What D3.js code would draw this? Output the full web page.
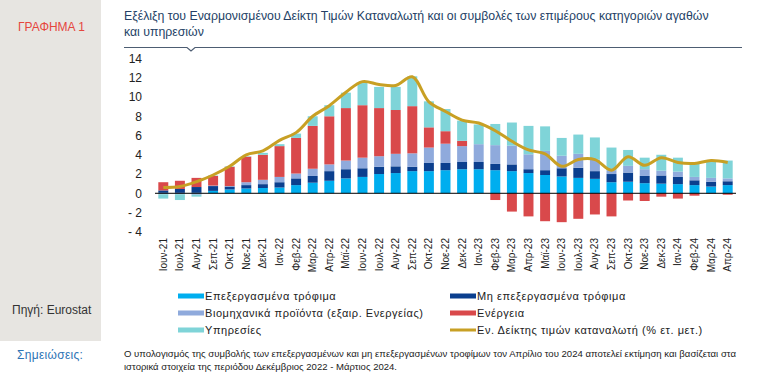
<!DOCTYPE html>
<html><head><meta charset="utf-8">
<script src="https://cdn.jsdelivr.net/npm/d3@7"></script>
<style>body{margin:0;background:#fff;} text{font-family:"Liberation Sans",Arial,sans-serif;}</style>
</head><body><svg id="c" width="762" height="381"></svg>
<script>
const months = ["Ιουν-21","Ιουλ-21","Αυγ-21","Σεπ-21","Οκτ-21","Νοε-21","Δεκ-21","Ιαν-22","Φεβ-22","Μαρ-22","Απρ-22","Μαϊ-22","Ιουν-22","Ιουλ-22","Αυγ-22","Σεπ-22","Οκτ-22","Νοε-22","Δεκ-22","Ιαν-23","Φεβ-23","Μαρ-23","Απρ-23","Μαϊ-23","Ιουν-23","Ιουλ-23","Αυγ-23","Σεπ-23","Οκτ-23","Νοε-23","Δεκ-23","Ιαν-24","Φεβ-24","Μαρ-24","Απρ-24"];
const processed   = [0.05,0.05,0.05,0.25,0.4,0.5,0.55,0.6,0.85,1.1,1.3,1.55,1.7,2.0,2.1,2.3,2.3,2.4,2.5,2.5,2.4,2.3,2.1,1.9,1.75,1.6,1.5,1.15,1.2,1.05,1.0,0.95,0.85,0.7,0.85];
const unprocessed = [0.25,0.4,0.6,0.5,0.3,0.35,0.4,0.55,0.7,0.7,1.0,0.95,0.9,0.75,0.7,0.45,0.85,0.75,0.75,0.75,0.65,0.7,0.4,0.5,0.85,1.05,0.8,0.85,0.95,0.75,0.85,0.75,0.5,0.5,0.4];
const industrial  = [-0.1,-0.1,-0.15,0.05,0.05,0.3,0.45,0.55,0.5,0.75,0.7,0.9,1.1,1.1,1.3,1.4,1.6,2.0,1.65,1.85,1.95,1.95,1.55,2.0,1.3,1.45,1.2,0.4,0.7,0.7,0.5,0.55,0.35,0.4,0.3];
const energy      = [0.85,0.85,0.95,1.0,2.0,2.65,2.6,3.2,3.7,4.45,5.0,5.45,5.45,5.0,4.55,4.9,2.1,1.3,0.55,0.0,-0.7,-1.9,-2.4,-2.9,-3.0,-2.65,-2.2,-2.4,-0.75,-0.8,-0.35,-0.55,-0.25,-0.05,-0.15];
const services    = [-0.45,-0.6,-0.2,0.05,0.05,0.05,0.2,0.2,0.45,1.0,1.15,1.6,2.3,2.2,2.4,3.1,2.7,2.3,2.1,2.05,2.2,2.4,2.95,2.55,1.85,2.0,2.3,2.35,1.65,1.2,1.65,1.45,1.55,1.7,1.85];
const hicp        = [0.6,0.7,1.2,1.9,2.8,4.0,4.4,5.5,6.3,8.0,9.1,10.5,11.6,11.3,11.2,12.1,9.5,8.5,7.6,7.3,6.5,5.4,4.5,4.1,2.8,3.5,3.5,2.4,3.8,2.9,3.7,3.2,3.1,3.4,3.2];
const yTicks = [-4,-2,0,2,4,6,8,10,12,14];

const seriesNames = ["Επεξεργασμένα τρόφιμα","Μη επεξεργασμένα τρόφιμα","Βιομηχανικά προϊόντα (εξαιρ. Ενεργείας)","Ενέργεια","Υπηρεσίες"];
const seriesKeys = ["processed","unprocessed","industrial","energy","services"];
const seriesVals = [processed,unprocessed,industrial,energy,services];
const colors = ["#00AEEF","#0B3F8E","#8FAADC","#D9494B","#7FD4D8"];
const lineName = "Εν. Δείκτης τιμών καταναλωτή (% ετ. μετ.)";
const lineColor = "#C8A024";

const svg = d3.select("#c");
svg.append("rect").attr("x",0).attr("y",0).attr("width",101).attr("height",341).attr("fill","#E7E5E1");
svg.append("text").attr("x",18).attr("y",31).attr("font-size",12).attr("fill","#E5463D").text("ΓΡΑΦΗΜΑ 1");
svg.append("text").attr("x",124).attr("y",19.5).attr("font-size",12.3).attr("fill","#243F66")
  .text("Εξέλιξη του Εναρμονισμένου Δείκτη Τιμών Καταναλωτή και οι συμβολές των επιμέρους κατηγοριών αγαθών");
svg.append("text").attr("x",124).attr("y",35.5).attr("font-size",12.3).attr("fill","#243F66").text("και υπηρεσιών");
svg.append("path").attr("d","M124,47.5H187L191,51L195,47.5H742").attr("fill","none").attr("stroke","#4D5D72").attr("stroke-width",1.2);

const table = months.map((m,i)=>{const o={month:m}; seriesKeys.forEach((k,j)=>o[k]=seriesVals[j][i]); return o;});
const stack = d3.stack().keys(seriesKeys).offset(d3.stackOffsetDiverging)(table);

const x = d3.scaleBand().domain(months).range([155,736]).paddingInner(0.4).paddingOuter(0.2);
const y = d3.scaleLinear().domain([-4,14]).range([231.8,58.5]);

// y tick labels
svg.append("g").selectAll("text").data(yTicks).join("text")
  .attr("x",142).attr("y",d=>y(d)+4.3).attr("text-anchor","end").attr("font-size",12).attr("fill","#222")
  .text(d=>d<0?"- "+Math.abs(d):d);

svg.append("g").selectAll("g").data(stack).join("g").attr("fill",(d,i)=>colors[i])
  .selectAll("rect").data(d=>d).join("rect")
  .attr("x",d=>x(d.data.month)).attr("width",x.bandwidth())
  .attr("y",d=>y(Math.max(d[0],d[1]))).attr("height",d=>Math.abs(y(d[0])-y(d[1])));

svg.append("line").attr("x1",155).attr("x2",736).attr("y1",y(0)).attr("y2",y(0)).attr("stroke","#000").attr("stroke-width",1);

const line = d3.line().x((d,i)=>x(months[i])+x.bandwidth()/2).y(d=>y(d)).curve(d3.curveCatmullRom.alpha(0.5));
svg.append("path").datum(hicp).attr("d",line).attr("fill","none").attr("stroke",lineColor).attr("stroke-width",3);

// x labels
svg.append("g").selectAll("text").data(months).join("text")
  .attr("transform",d=>`translate(${x(d)+x.bandwidth()/2+3.5},238) rotate(-90)`)
  .attr("text-anchor","end").attr("font-size",10).attr("fill","#222").text(d=>d);

// legend
const legItems = [
  {name:seriesNames[0],color:colors[0],type:"bar",col:0,row:0},
  {name:seriesNames[1],color:colors[1],type:"bar",col:1,row:0},
  {name:seriesNames[2],color:colors[2],type:"bar",col:0,row:1},
  {name:seriesNames[3],color:colors[3],type:"bar",col:1,row:1},
  {name:seriesNames[4],color:colors[4],type:"bar",col:0,row:2},
  {name:lineName,color:lineColor,type:"line",col:1,row:2}
];
const colX=[178,450], rowY=[296,313,330];
const lg = svg.append("g").selectAll("g").data(legItems).join("g")
  .attr("transform",d=>`translate(${colX[d.col]},${rowY[d.row]})`);
lg.append("rect").attr("x",0).attr("y",d=>d.type==="bar"?-2.5:-1.5).attr("width",26).attr("height",d=>d.type==="bar"?5:3).attr("fill",d=>d.color);
lg.append("text").attr("x",27).attr("y",4).attr("font-size",11).attr("letter-spacing",0.55).attr("fill","#222").text(d=>d.name);

svg.append("text").attr("x",12).attr("y",314).attr("font-size",12).attr("fill","#333").text("Πηγή: Eurostat");
svg.append("text").attr("x",17).attr("y",359).attr("font-size",12).attr("fill","#2E74B5").attr("letter-spacing",0.3).text("Σημειώσεις:");
svg.append("text").attr("x",124).attr("y",357).attr("font-size",9).attr("fill","#222")
  .attr("textLength",612).attr("lengthAdjust","spacingAndGlyphs")
  .text("Ο υπολογισμός της συμβολής των επεξεργασμένων και μη επεξεργασμένων τροφίμων τον Απρίλιο του 2024 αποτελεί εκτίμηση  και βασίζεται στα");
svg.append("text").attr("x",124).attr("y",370).attr("font-size",9).attr("fill","#222")
  .attr("textLength",273).attr("lengthAdjust","spacingAndGlyphs")
  .text("ιστορικά στοιχεία της περιόδου Δεκέμβριος 2022 - Μάρτιος 2024.");
</script></body></html>
